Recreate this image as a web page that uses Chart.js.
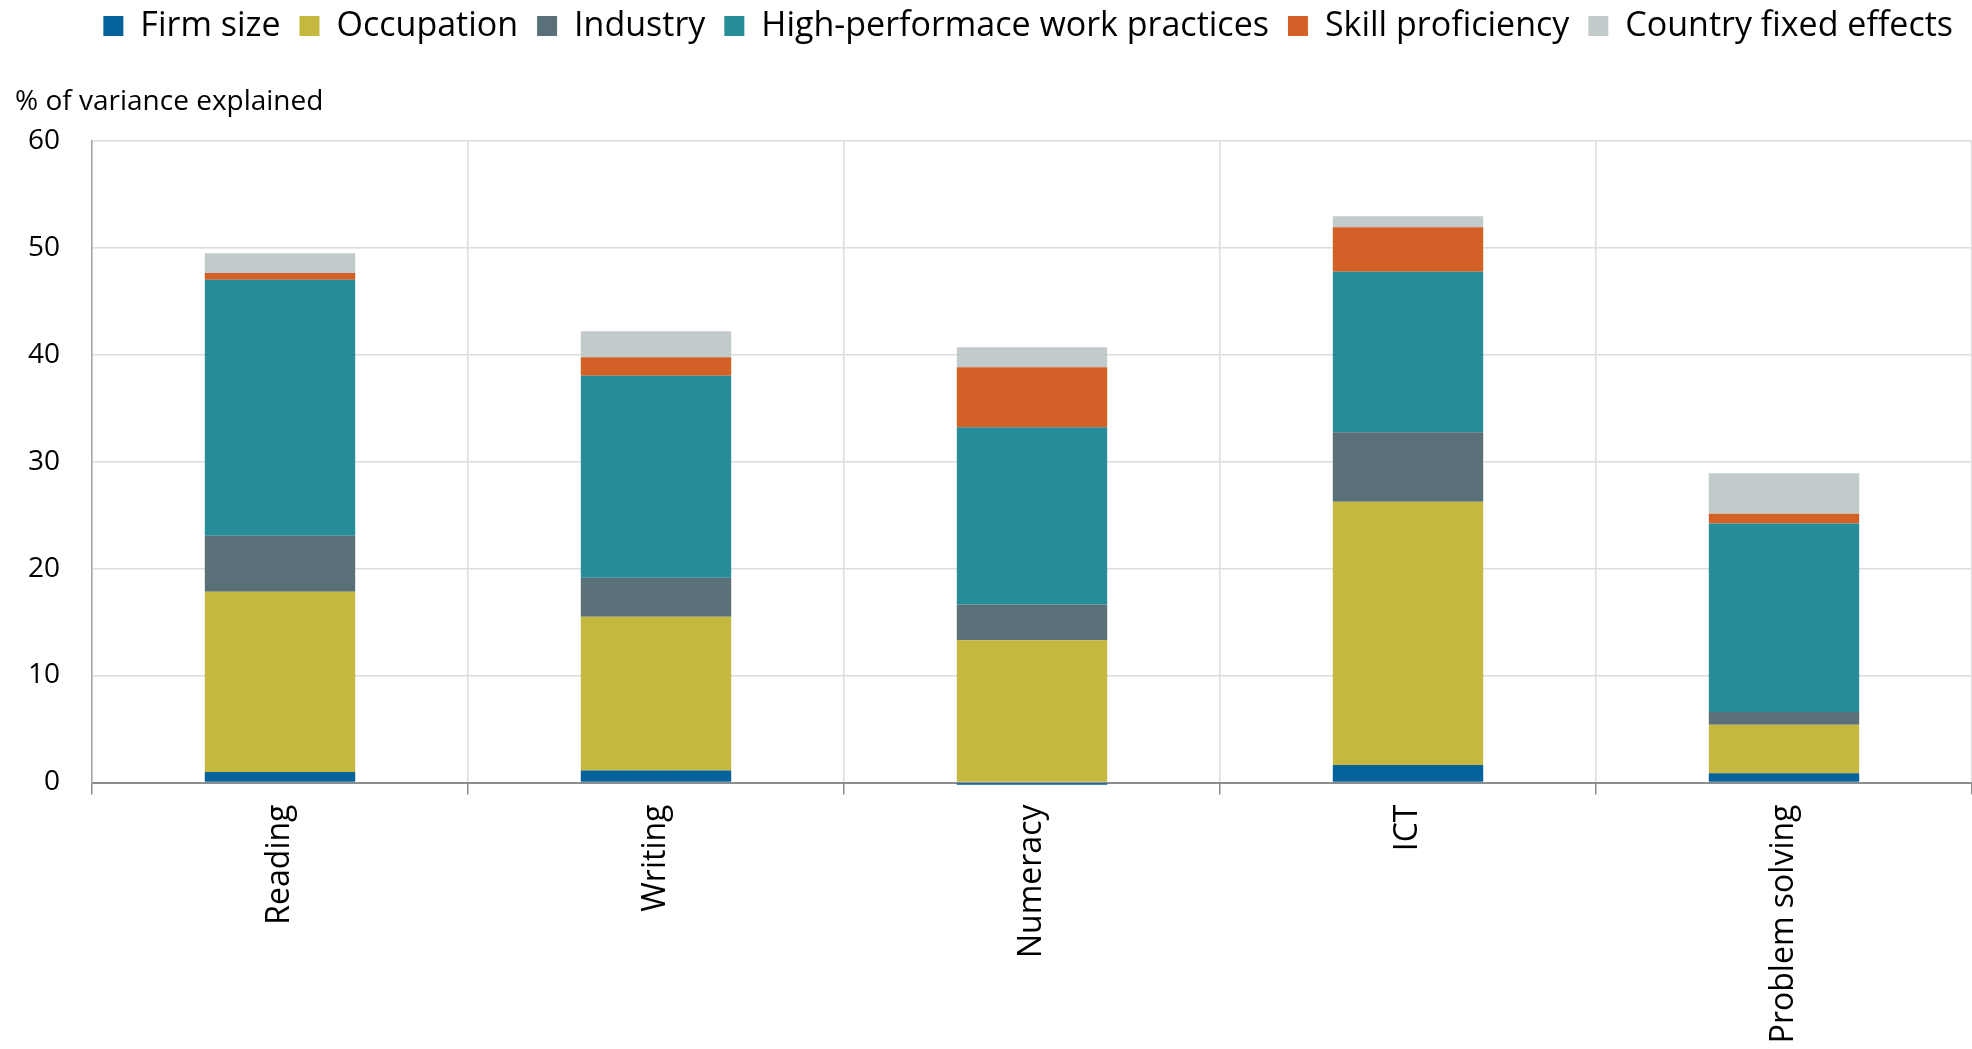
<!DOCTYPE html>
<html>
<head>
<meta charset="utf-8">
<title>Variance in skill use explained</title>
<script src="https://cdn.jsdelivr.net/npm/chart.js@4.4.1/dist/chart.umd.min.js"></script>
<style>
  html, body { margin: 0; padding: 0; background: #ffffff; }
  #wrap { width: 1972px; height: 1049px; position: relative; }
</style>
</head>
<body>
<div id="wrap"><canvas id="chart"></canvas></div>
<script>
// Skill-use domains on the horizontal axis
const categories = ['Reading', 'Writing', 'Numeracy', 'ICT', 'Problem solving'];

// Share of variance explained by each block of factors (percentage points)
const firmSize            = [0.97, 1.12, -0.2, 1.64, 0.87];
const occupation          = [16.86, 14.37, 13.29, 24.61, 4.53];
const industry            = [5.24, 3.64, 3.35, 6.50, 1.18];
const highPerfPractices   = [23.93, 18.88, 16.57, 15.00, 17.64];
const skillProficiency    = [0.63, 1.74, 5.61, 4.14, 0.90];
const countryFixedEffects = [1.84, 2.43, 1.86, 1.04, 3.79];

// Value axis
const yMin = 0, yMax = 60, yStep = 10;
const yTitle = '% of variance explained';

const seriesNames = ['Firm size', 'Occupation', 'Industry', 'High-performace work practices', 'Skill proficiency', 'Country fixed effects'];
const seriesValues = [firmSize, occupation, industry, highPerfPractices, skillProficiency, countryFixedEffects];
const seriesColors = ['#04619a', '#c4b83f', '#597079', '#278d98', '#d36027', '#c3cacb'];

const FONT = "'Open Sans', 'Noto Sans', sans-serif";

const datasets = seriesNames.map((name, i) => ({
  label: name,
  data: seriesValues[i],
  backgroundColor: seriesColors[i],
  borderWidth: 0,
  barPercentage: 0.4,
  categoryPercentage: 1.0,
  clip: false
}));

new Chart(document.getElementById('chart'), {
  type: 'bar',
  data: { labels: categories, datasets },
  options: {
    responsive: true,
    maintainAspectRatio: false,
    devicePixelRatio: 1,
    animation: false,
    layout: { padding: { left: 15, right: 0, top: -10, bottom: 0 } },
    plugins: {
      tooltip: { enabled: false },
      legend: {
        position: 'top',
        align: 'end',
        weight: 3000,
        labels: {
          color: '#000000',
          font: { family: FONT, size: 34 },
          boxWidth: 20,
          boxHeight: 20,
          padding: 19
        }
      },
      title: {
        display: true,
        text: yTitle,
        align: 'start',
        color: '#000000',
        font: { family: FONT, size: 28, weight: 'normal' },
        padding: { top: 32, bottom: 22 }
      }
    },
    scales: {
      x: {
        stacked: true,
        grid: {
          offset: true,
          color: '#dcdcdc',
          lineWidth: 1.5,
          tickColor: '#8c8c8c',
          tickLength: 12
        },
        border: { color: '#8c8c8c', width: 2 },
        ticks: {
          color: '#000000',
          font: { family: FONT, size: 32 },
          minRotation: 90,
          maxRotation: 90,
          padding: 10,
          autoSkip: false
        },
        afterFit(scale) { scale.height = 266.5; }
      },
      y: {
        stacked: true,
        min: yMin,
        max: yMax,
        grid: {
          color: '#dcdcdc',
          lineWidth: 1.5,
          drawTicks: false
        },
        border: { color: '#a6a6a6', width: 1.5 },
        ticks: {
          stepSize: yStep,
          color: '#000000',
          font: { family: FONT, size: 28 },
          padding: 32
        },
        afterFit(scale) { scale.width = 77; }
      }
    }
  }
});
</script>
</body>
</html>
